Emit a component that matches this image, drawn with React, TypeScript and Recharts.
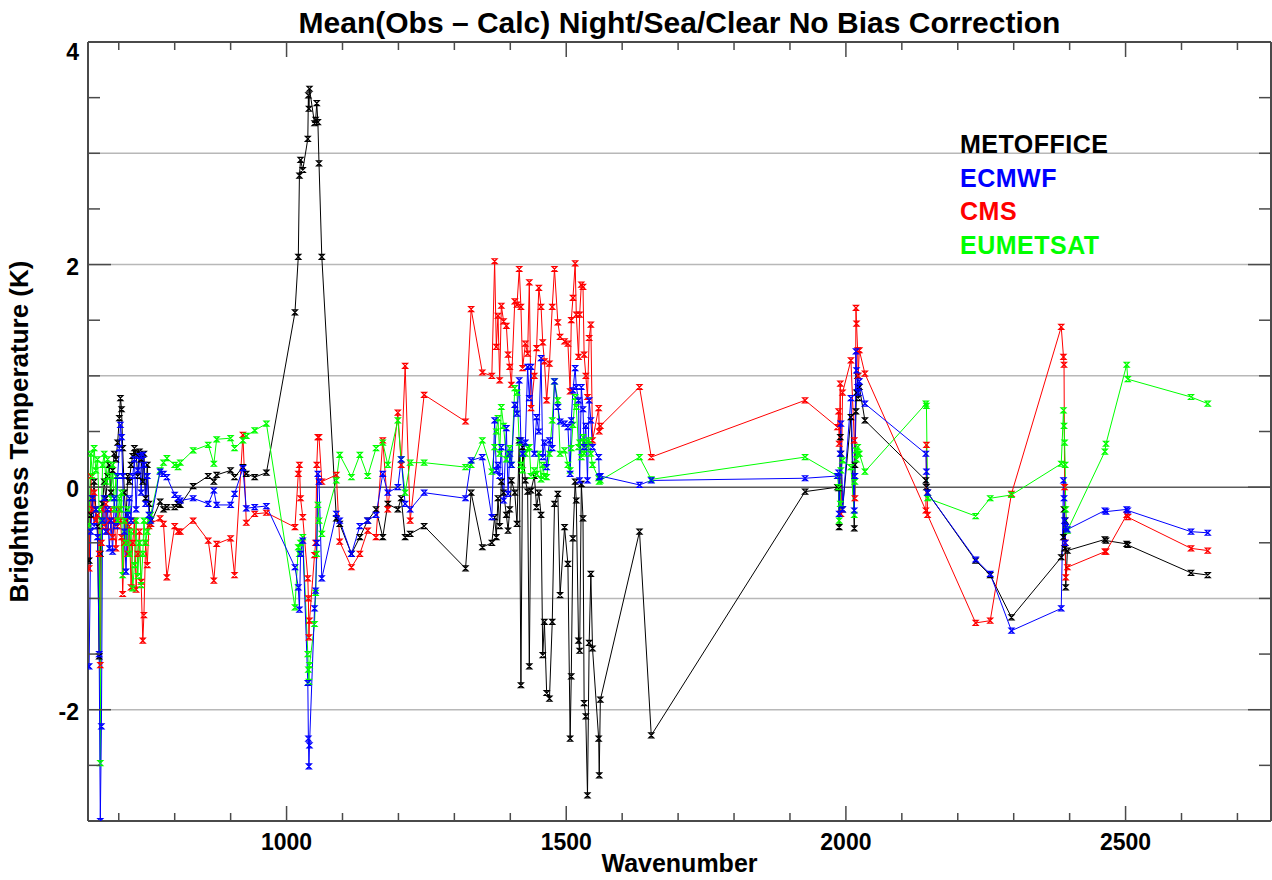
import React from "react";
import { LineChart, Line, XAxis, YAxis, ReferenceLine } from "recharts";

// IASI channel wavenumbers (cm-1) and mean obs-calc departures (K) per centre
const wavenumbers = [
  // CO2 band
  647, 650, 653, 656, 659, 662, 665, 667, 669, 671, 674, 677, 680, 683, 686, 689, 692, 695, 698, 701,
  703, 705, 707, 710, 713, 716, 719, 722, 725, 728, 731, 734, 737, 740, 743, 745, 748, 751, 754, 757,
  // window
  774, 780, 786, 800, 806, 810, 833, 860, 870, 875, 900, 907, 922, 928, 943, 964,
  // ozone
  1015, 1021, 1023, 1025, 1029, 1038, 1039, 1040, 1041, 1050, 1052, 1054, 1056, 1058, 1063, 1089, 1095,
  1116, 1131, 1145, 1160, 1172, 1181, 1199, 1205, 1212, 1221, 1246, 1320,
  // water vapour
  1330, 1350, 1367, 1372, 1375, 1378, 1381, 1384, 1388, 1393, 1396, 1399, 1402, 1408, 1412, 1416, 1419, 1422,
  1427, 1431, 1434, 1437, 1443, 1447, 1451, 1455, 1458, 1461, 1465, 1470, 1475, 1479, 1485, 1489, 1497, 1503,
  1507, 1509, 1512, 1516, 1518, 1522, 1524, 1527, 1530, 1532, 1535, 1538, 1541, 1544, 1547, 1558, 1559, 1561,
  // shortwave
  1631, 1652, 1927, 1985, 1987, 1988, 1990, 1991, 1994, 2009, 2015, 2016, 2018, 2019, 2021, 2022, 2024, 2034,
  2143, 2144, 2146, 2232, 2258, 2296, 2385, 2389, 2390, 2391, 2392, 2393, 2396, 2463, 2465, 2502, 2504, 2617, 2647,
];

const metoffice = [
  -0.66, -0.25, -0.1, 0.05, -0.2, -0.35, -1.52, -0.6, -0.3, -0.15, 0.05, -0.1, 0.1, 0.2, -0.05, 0.15, 0.3, 0.25, 0.4, 0.62,
  0.8, 0.7, 0.35, -0.05, -0.3, 0.1, 0.05, 0.2, 0.28, 0.35, 0.3, 0.1, 0.32, 0.25, 0.05, 0.3, -0.1, 0.2, -0.15, -0.33,
  -0.13, -0.2, -0.18, -0.18, -0.15, -0.16, 0.01, 0.1, 0.05, 0.11, 0.15, 0.09, 0.18, 0.12, 0.09, 0.13,
  1.57, 2.07, 2.8, 2.94, 2.85, 3.13, 3.52, 3.4, 3.58, 3.27, 3.3, 3.45, 3.28, 2.91, 2.07, -0.28, -0.33,
  -0.6, -0.45, -0.3, -0.2, -0.45, -0.15, -0.2, -0.1, -0.45, -0.42, -0.35, -0.73,
  -0.05, -0.54, -0.5, -0.27, -0.45, -0.1, -0.35, 0.05, -0.05, -0.25, -0.39, -0.2, 0.06, -0.05, -0.33, 0.42, -1.78, 0.36,
  0.06, -0.04, -1.61, -0.03, 0.1, -0.18, -0.05, -0.25, -1.51, -1.21, -1.85, -1.9, -1.21, -0.15, -0.06, -0.97, -0.36, -0.69,
  -2.26, -1.7, -0.46, 0.05, -0.12, -1.38, -1.47, 0.03, -0.28, -1.94, -2.06, -2.77, -1.4, -0.78, -1.45, -2.26, -2.59, -1.91,
  -0.4, -2.23, -0.04, 0.0, -0.01, -0.36, 0.45, 0.3, -0.2, 0.63, -0.37, 0.2, 0.68, 0.85, 1.0, 0.8, 0.9, 0.6,
  0.06, 0.0, -0.05, -0.66, -0.79, -1.17, -0.63, -0.45, -0.2, -0.55, -0.3, -0.9, -0.57, -0.47, -0.48, -0.51, -0.52, -0.77, -0.79,
];

const ecmwf = [
  -1.61, -0.4, -0.1, -0.35, -0.2, -0.45, -1.5, -3.0, -2.15, -0.3, -0.1, -0.4, -0.2, -0.55, -0.3, -0.58, -0.1, -0.35, 0.1, 0.35,
  0.56, 0.45, 0.1, -0.4, -0.76, -0.25, -0.1, -0.3, 0.1, 0.25, -0.2, 0.15, 0.28, -0.05, 0.29, 0.2, -0.15, 0.1, -0.25, -0.3,
  0.14, 0.12, 0.09, -0.07, -0.1, -0.12, -0.1, -0.15, -0.03, -0.16, -0.16, -0.06, 0.17, -0.19, -0.18, -0.17,
  -0.72, -0.9, -1.1, -0.6, -0.48, -1.76, -2.26, -2.51, -2.32, -1.09, -0.93, -0.5, 0.12, 0.05, -0.82, -0.24, -0.3,
  -0.6, -0.35, -0.3, -0.25, 0.12, -0.05, 0.0, 0.25, -0.15, -0.2, -0.05, -0.1,
  0.24, 0.27, -0.27, 0.6, 0.15, 0.2, 0.1, 0.36, -0.12, 0.53, -0.06, 0.3, 0.2, 0.74, 0.66, 0.96, 0.42, 0.3,
  0.4, 1.08, 0.8, 1.08, 0.3, 0.63, 0.5, 1.16, 0.27, 0.4, 0.18, 0.42, 0.35, 0.95, 0.72, 0.59, 0.57, 0.54,
  0.12, 0.6, 0.87, 1.07, 0.9, 0.78, 0.06, 0.9, 0.7, 0.36, 0.55, 0.06, 0.78, 0.6, 0.36, 0.27, 0.09, 0.1,
  0.02, 0.06, 0.08, 0.1, 0.13, -0.24, 0.3, 0.57, -0.2, 0.8, -0.21, 0.1, 1.22, 1.05, 0.9, 0.85, 0.95, 0.75,
  0.3, 0.14, -0.05, -0.65, -0.78, -1.29, -1.09, 0.06, -0.1, -0.3, -0.5, -0.36, -0.38, -0.21, -0.22, -0.2, -0.21, -0.4, -0.41,
];

const cms = [
  -0.73, 0.1, -0.2, -0.05, -0.3, -0.25, -0.6, -1.6, -0.5, -0.2, -0.35, -0.15, -0.4, -0.3, -0.2, -0.45, -0.3, -0.55, -0.35, -0.2,
  -0.3, -0.45, -0.96, -0.5, -0.3, -0.6, -0.35, -0.9, -0.5, -0.3, -0.92, -0.6, -0.4, -0.85, -1.38, -1.15, -0.5, -0.7, -0.35, -0.33,
  -0.28, -0.33, -0.81, -0.35, -0.4, -0.4, -0.3, -0.48, -0.84, -0.51, -0.46, -0.79, 0.47, -0.32, -0.24, -0.23,
  -0.36, 0.12, 0.2, -0.1, -0.27, -0.82, -1.0, -1.35, -1.2, -0.61, -0.5, 0.2, 0.45, 0.45, 0.05, 0.11, -0.49,
  -0.72, -0.6, -0.39, -0.45, 0.42, -0.2, 0.67, 0.2, 1.09, -0.3, 0.83, 0.59,
  1.6, 1.03, 1.0, 2.03, 1.26, 1.54, 0.96, 1.63, 1.49, 1.45, 1.19, 1.08, 0.92, 1.67, 1.64, 1.96, 1.62, 1.07,
  1.29, 1.2, 1.84, 0.71, 1.0, 1.25, 1.79, 1.62, 1.3, 1.13, 0.78, 1.11, 1.62, 1.96, 1.48, 1.35, 1.31, 1.29,
  0.86, 1.5, 1.7, 2.01, 1.55, 1.17, 1.55, 1.82, 1.8, 1.19, 1.0, 0.81, 1.34, 1.46, 0.42, 0.71, 0.5, 0.55,
  0.9, 0.27, 0.78, 0.54, 0.68, 0.39, 0.93, -0.24, 0.85, 1.14, 0.42, -0.1, 1.61, 1.47, 1.23, 1.0, 1.23, 1.02,
  -0.21, 0.38, -0.25, -1.22, -1.2, -0.06, 1.44, 1.17, 1.1, 0.0, -0.5, -0.81, -0.72, -0.58, -0.58, -0.25, -0.27, -0.55, -0.57,
];

const eumetsat = [
  -0.35, 0.3, 0.1, 0.35, 0.15, 0.25, -0.2, -2.48, -0.3, 0.2, 0.3, 0.05, 0.25, 0.1, -0.1, 0.2, -0.2, 0.1, -0.3, -0.1,
  -0.2, -0.05, -0.79, -0.3, -0.5, -0.2, -0.6, -0.4, -0.91, -0.7, -0.3, -0.8, -0.5, -0.88, -0.6, -0.3, -0.5, -0.4, -0.3, -0.25,
  0.15, 0.22, 0.26, 0.2, 0.18, 0.22, 0.33, 0.38, 0.21, 0.43, 0.44, 0.35, 0.42, 0.46, 0.51, 0.57,
  -1.08, -0.54, -0.6, -0.5, -0.45, -1.5, -1.64, -1.75, -1.6, -1.23, -0.95, -0.6, -0.16, -0.3, -0.42, 0.06, 0.29,
  0.09, 0.29, 0.1, 0.35, 0.4, 0.2, 0.6, 0.25, -0.05, 0.22, 0.22, 0.18,
  0.2, 0.42, 0.14, 0.36, 0.5, 0.62, 0.3, 0.72, 0.55, 0.25, 0.3, 0.35, 0.2, 0.89, 0.85, 0.4, 0.2, 0.15,
  0.3, 0.35, 0.36, 0.1, 0.15, 0.12, 0.3, 0.07, 0.2, 0.1, 0.09, 0.3, 0.6, 0.95, 0.78, 0.3, 0.33, 0.2,
  0.15, 0.35, 0.56, 0.81, 0.72, 0.36, 0.4, 0.27, 0.45, 0.3, 0.4, 0.36, 0.42, 0.3, 0.2, 0.08, 0.05, 0.06,
  0.27, 0.07, 0.27, 0.1, 0.0, -0.3, -0.15, 0.15, 0.24, 0.18, -0.25, 0.05, 0.33, 0.25, 0.36, 0.3, 0.3, 0.14,
  0.75, 0.73, -0.1, -0.26, -0.1, -0.07, 0.21, 0.69, 0.55, 0.4, 0.2, -0.2, -0.39, 0.32, 0.39, 1.1, 0.97, 0.81, 0.75,
];

const X_TICKS = [700, 800, 900, 1000, 1100, 1200, 1300, 1400, 1500, 1600, 1700, 1800, 1900, 2000, 2100, 2200, 2300, 2400, 2500, 2600, 2700];
const X_LABELLED = [1000, 1500, 2000, 2500];
const Y_TICKS = [-3, -2.5, -2, -1.5, -1, -0.5, 0, 0.5, 1, 1.5, 2, 2.5, 3, 3.5, 4];
const Y_LABELLED = [-2, 0, 2, 4];
const GRID = [-2, -1, 1, 2, 3];

const SERIES = [
  { key: "metoffice", name: "METOFFICE", color: "#000000" },
  { key: "ecmwf", name: "ECMWF", color: "#0000ff" },
  { key: "cms", name: "CMS", color: "#ff0000" },
  { key: "eumetsat", name: "EUMETSAT", color: "#00ff00" },
];
// drawing order: last one ends up on top
const DRAW_ORDER = ["metoffice", "cms", "eumetsat", "ecmwf"];

const rows = wavenumbers.map((wn, i) => ({
  wn,
  metoffice: metoffice[i],
  ecmwf: ecmwf[i],
  cms: cms[i],
  eumetsat: eumetsat[i],
}));

const W = 1272;
const H = 880;
const PLOT = { left: 88, right: 1271, top: 42, bottom: 821 };
const AXIS = "#4a4a4a";
const FONT = "'Liberation Sans', Arial, Helvetica, sans-serif";

function Hourglass(props: any) {
  const { cx, cy, color } = props;
  if (cx == null || cy == null) return null;
  const s = 2.5;
  return (
    <path
      d={`M${cx - s},${cy - s}H${cx + s}L${cx - s},${cy + s}H${cx + s}Z`}
      fill="none"
      stroke={color}
      strokeWidth={1.2}
    />
  );
}

// ticks point into the plot; the same tick is repeated on the top edge
function XTick(props: any) {
  const { x, y, payload } = props;
  const major = X_LABELLED.includes(payload.value);
  const len = major ? 15 : 8;
  return (
    <g>
      <line x1={x} y1={y} x2={x} y2={y - len} stroke={AXIS} strokeWidth={1.5} />
      <line x1={x} y1={PLOT.top} x2={x} y2={PLOT.top + len} stroke={AXIS} strokeWidth={1.5} />
      {major && (
        <text x={x} y={y + 29} textAnchor="middle" fontFamily={FONT} fontWeight="bold" fontSize={23} fill="#000">
          {payload.value}
        </text>
      )}
    </g>
  );
}

// ticks point into the plot; the same tick is repeated on the right edge
function YTick(props: any) {
  const { x, y, payload } = props;
  const major = Y_LABELLED.includes(payload.value);
  const len = major ? 23 : 12;
  return (
    <g>
      <line x1={x} y1={y} x2={x + len} y2={y} stroke={AXIS} strokeWidth={1.5} />
      <line x1={PLOT.right} y1={y} x2={PLOT.right - len} y2={y} stroke={AXIS} strokeWidth={1.5} />
      {major && (
        <text
          x={x - 9}
          y={Math.max(y + 2, PLOT.top + 10)}
          textAnchor="end"
          dominantBaseline="central"
          fontFamily={FONT}
          fontWeight="bold"
          fontSize={23}
          fill="#000"
        >
          {payload.value}
        </text>
      )}
    </g>
  );
}

export default function App() {
  return (
    <div style={{ position: "absolute", left: 0, top: 0, width: W, height: H, background: "#fff" }}>
      <LineChart
        width={W}
        height={H}
        data={rows}
        margin={{ top: PLOT.top, right: W - PLOT.right, bottom: 0, left: 0 }}
      >
        {GRID.map((v) => (
          <ReferenceLine key={v} y={v} stroke="#b8b8b8" strokeWidth={1.5} ifOverflow="hidden" />
        ))}
        <ReferenceLine y={0} stroke="#5a5a5a" strokeWidth={1.5} />
        <ReferenceLine y={4} stroke={AXIS} strokeWidth={2} />
        <ReferenceLine x={2760} stroke={AXIS} strokeWidth={2} />
        <XAxis
          type="number"
          dataKey="wn"
          domain={[645, 2760]}
          allowDataOverflow
          ticks={X_TICKS}
          interval={0}
          height={H - PLOT.bottom}
          tickSize={0}
          tickMargin={0}
          tickLine={false}
          axisLine={{ stroke: AXIS, strokeWidth: 2 }}
          tick={<XTick />}
        />
        <YAxis
          type="number"
          domain={[-3, 4]}
          allowDataOverflow
          ticks={Y_TICKS}
          interval={0}
          width={PLOT.left}
          tickSize={0}
          tickMargin={0}
          tickLine={false}
          axisLine={{ stroke: AXIS, strokeWidth: 2 }}
          tick={<YTick />}
        />
        {DRAW_ORDER.map((key) => {
          const s = SERIES.find((d) => d.key === key)!;
          return (
            <Line
              key={key}
              dataKey={key}
              name={s.name}
              stroke={s.color}
              strokeWidth={1}
              dot={<Hourglass color={s.color} />}
              activeDot={false}
              isAnimationActive={false}
            />
          );
        })}
      </LineChart>

      <svg
        width={W}
        height={H}
        style={{ position: "absolute", left: 0, top: 0, pointerEvents: "none" }}
        fontFamily={FONT}
        fontWeight="bold"
      >
        <text x={(PLOT.left + PLOT.right) / 2} y={33} textAnchor="middle" fontSize={30} fill="#000">
          Mean(Obs – Calc) Night/Sea/Clear No Bias Correction
        </text>
        <text x={(PLOT.left + PLOT.right) / 2} y={872} textAnchor="middle" fontSize={25} fill="#000">
          Wavenumber
        </text>
        <text
          transform={`translate(28, ${(PLOT.top + PLOT.bottom) / 2}) rotate(-90)`}
          textAnchor="middle"
          fontSize={26}
          fill="#000"
        >
          Brightness Temperature (K)
        </text>
        {SERIES.map((s, i) => (
          <text key={s.key} x={960} y={153 + i * 33.5} fontSize={25} letterSpacing={0.5} fill={s.color}>
            {s.name}
          </text>
        ))}
      </svg>
    </div>
  );
}
